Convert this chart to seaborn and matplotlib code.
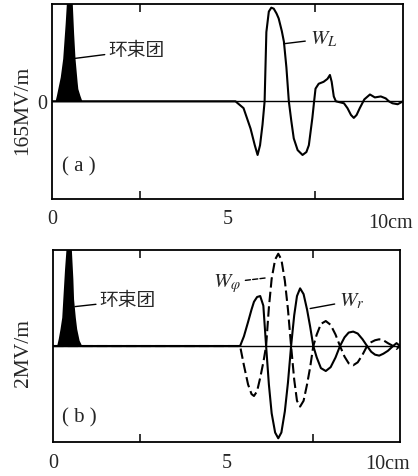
import matplotlib
matplotlib.use("Agg")
import matplotlib.pyplot as plt
import matplotlib.transforms as mtransforms
import seaborn as sns

# ring-beam bunch profiles (arbitrary height, clipped at top)
bunch_a_x = [0.09, 0.13, 0.17, 0.24, 0.31, 0.38, 0.43, 0.5, 0.57, 0.62, 0.66, 0.72, 0.74, 0.8, 0.86]
bunch_a_y = [0, 0.06, 0.13, 0.25, 0.44, 0.8, 1.1, 1.3, 1.1, 0.7, 0.44, 0.2, 0.13, 0.06, 0]
bunch_b_x = [0.1, 0.15, 0.2, 0.25, 0.28, 0.33, 0.38, 0.45, 0.52, 0.57, 0.59, 0.64, 0.68, 0.75, 0.83]
bunch_b_y = [0, 0.08, 0.18, 0.3, 0.49, 0.8, 1.05, 1.3, 1.05, 0.7, 0.49, 0.3, 0.18, 0.06, 0]

# (a) longitudinal wake W_L  (unit 165 MV/m)
wl_x = [0, 5.23, 5.46, 5.66, 5.78, 5.86, 5.93, 6.0, 6.06, 6.11,
        6.18, 6.25, 6.32, 6.4, 6.46, 6.55, 6.61, 6.68, 6.75, 6.82,
        6.89, 7.0, 7.14, 7.25, 7.32, 7.42, 7.47, 7.51, 7.6, 7.74,
        7.85, 7.92, 7.97, 8.03, 8.09, 8.32, 8.42, 8.52, 8.6, 8.68,
        8.77, 8.9, 9.06, 9.2, 9.37, 9.51, 9.6, 9.7, 9.85, 10.0]
wl_y = [0, 0, -0.07, -0.28, -0.45, -0.55, -0.45, -0.24, 0, 0.71,
        0.92, 0.96, 0.95, 0.9, 0.85, 0.72, 0.61, 0.35, 0.0, -0.2,
        -0.38, -0.5, -0.55, -0.52, -0.45, -0.17, 0, 0.13, 0.18, 0.2,
        0.23, 0.27, 0.2, 0.05, 0.0, -0.02, -0.07, -0.14, -0.17, -0.14,
        -0.07, 0.02, 0.07, 0.04, 0.05, 0.03, 0.0, -0.02, -0.03, 0.0]

# (b) transverse wakes W_r (solid) and W_phi (dashed)  (unit 2 MV/m)
wb_x = [0, 5.39, 5.5, 5.62, 5.72, 5.79, 5.88, 5.97, 6.06, 6.14,
        6.22, 6.3, 6.4, 6.49, 6.58, 6.68, 6.77, 6.86,
        6.95, 7.03, 7.12, 7.22, 7.32, 7.41, 7.5,
        7.6, 7.72, 7.86, 8.0, 8.14, 8.27,
        8.4, 8.52, 8.65, 8.78, 8.92, 9.05,
        9.17, 9.28, 9.4, 9.52, 9.65, 9.8, 9.9, 10.0]
wr_y = [0, 0, 0.1, 0.25, 0.38, 0.46, 0.51, 0.52, 0.42, 0,
        -0.4, -0.7, -0.9, -0.96, -0.9, -0.68, -0.38, 0,
        0.32, 0.52, 0.6, 0.54, 0.38, 0.2, 0,
        -0.12, -0.23, -0.26, -0.22, -0.12, 0,
        0.09, 0.14, 0.15, 0.13, 0.07, 0,
        -0.06, -0.09, -0.1, -0.08, -0.05, 0, 0.03, 0]
wphi_y = [0, 0, -0.2, -0.4, -0.5, -0.52, -0.47, -0.33, -0.17, 0,
          0.4, 0.7, 0.9, 0.96, 0.9, 0.68, 0.38, 0,
          -0.35, -0.57, -0.63, -0.57, -0.4, -0.22, 0,
          0.12, 0.23, 0.26, 0.22, 0.12, 0,
          -0.11, -0.18, -0.2, -0.17, -0.09, 0,
          0.04, 0.06, 0.07, 0.06, 0.03, 0, -0.03, 0]

x_ticks = [0, 5, 10]
x_ticklabels = ["0", "5", "10cm"]
minor_ticks = [2.5, 5, 7.5]

sns.set_style("white")
plt.rcParams["font.family"] = ["Liberation Serif", "Noto Sans CJK SC"]
plt.rcParams["mathtext.fontset"] = "stix"

fig = plt.figure(figsize=(4.18, 4.77), dpi=100)
ax_a = fig.add_axes([0.124, 0.581, 0.840, 0.409])
ax_b = fig.add_axes([0.127, 0.071, 0.830, 0.403])


def style_axes(ax, pad, last_dy):
    ax.set_xlim(0, 10)
    ax.set_ylim(-1, 1)
    for s in ax.spines.values():
        s.set_visible(True)
        s.set_color("black")
        s.set_linewidth(1.3)
    ax.axhline(0, color="black", lw=1.0, zorder=1)
    ax.set_xticks(x_ticks)
    ax.set_xticklabels(x_ticklabels, fontsize=14.5)
    ax.set_xticks(minor_ticks, minor=True)
    ax.tick_params(axis="x", which="major", length=0, pad=pad)
    ax.tick_params(axis="x", which="minor", direction="in", length=6,
                   width=1.1, top=True, bottom=True, color="black")
    lbl = ax.get_xticklabels()[-1]
    lbl.set_transform(lbl.get_transform() +
                      mtransforms.ScaledTranslation(-0.12, last_dy, fig.dpi_scale_trans))
    ax.set_xlabel("")


# ---- (a)
ax = ax_a
ax.fill_between(bunch_a_x, bunch_a_y, 0, color="black", lw=0)
sns.lineplot(x=wl_x, y=wl_y, ax=ax, color="black", lw=1.5, estimator=None)
style_axes(ax, 7, -0.04)
ax.set_yticks([0])
ax.set_yticklabels(["0"], fontsize=14.5)
ax.tick_params(axis="y", length=0, pad=3)
ax.set_ylabel("165MV/m", fontsize=15.5)
ax.yaxis.set_label_coords(-0.057, 0.46)
ax.annotate("环束团", xy=(0.66, 0.44), xytext=(1.6, 0.52), fontsize=13.5,
            va="center", ha="left",
            arrowprops=dict(arrowstyle="-", lw=1.0, color="black", shrinkA=0, shrinkB=0))
ax.annotate("$W_L$", xy=(6.6, 0.59), xytext=(7.35, 0.64), fontsize=15,
            va="center", ha="left",
            arrowprops=dict(arrowstyle="-", lw=1.0, color="black", shrinkA=1, shrinkB=0))
ax.text(0.3, -0.66, "( a )", fontsize=15, va="center", ha="left")

# ---- (b)
ax = ax_b
ax.fill_between(bunch_b_x, bunch_b_y, 0, color="black", lw=0)
sns.lineplot(x=wb_x, y=wr_y, ax=ax, color="black", lw=1.5, estimator=None)
sns.lineplot(x=wb_x, y=wphi_y, ax=ax, color="black", lw=1.5, estimator=None,
             linestyle=(0, (5, 2)))
style_axes(ax, 8, -0.01)
ax.set_yticks([])
ax.set_ylabel("2MV/m", fontsize=15.5)
ax.yaxis.set_label_coords(-0.058, 0.47)
ax.annotate("环束团", xy=(0.63, 0.41), xytext=(1.33, 0.47), fontsize=13.5,
            va="center", ha="left",
            arrowprops=dict(arrowstyle="-", lw=1.0, color="black", shrinkA=0, shrinkB=0))
ax.annotate(r"$W_\varphi$", xy=(6.17, 0.71), xytext=(4.6, 0.66), fontsize=15,
            va="center", ha="left",
            arrowprops=dict(arrowstyle="-", lw=1.0, color="black", linestyle="--",
                            shrinkA=1, shrinkB=0))
ax.annotate("$W_r$", xy=(7.41, 0.39), xytext=(8.25, 0.47), fontsize=15,
            va="center", ha="left",
            arrowprops=dict(arrowstyle="-", lw=1.0, color="black", shrinkA=1, shrinkB=0))
ax.text(0.27, -0.74, "( b )", fontsize=15, va="center", ha="left")

fig.savefig("out.png", dpi=100, facecolor="white")
